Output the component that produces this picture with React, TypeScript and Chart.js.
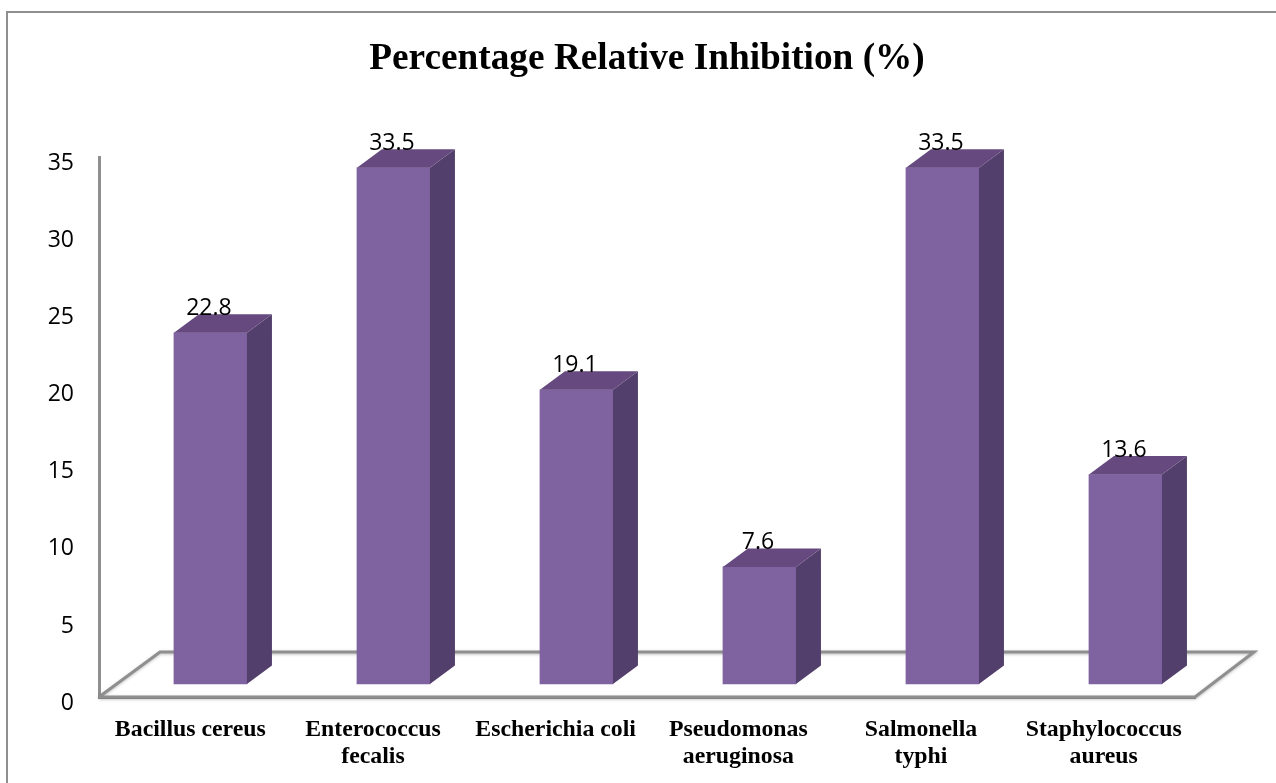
import React, { useEffect, useRef } from "react";
import { Chart, registerables } from "chart.js";

Chart.register(...registerables);

const categories = [
  ["Bacillus cereus"],
  ["Enterococcus", "fecalis"],
  ["Escherichia coli"],
  ["Pseudomonas", "aeruginosa"],
  ["Salmonella", "typhi"],
  ["Staphylococcus", "aureus"],
];
const inhibition = [22.8, 33.5, 19.1, 7.6, 33.5, 13.6];
const axisTicks = [0, 5, 10, 15, 20, 25, 30, 35];

const AXIS_GREY = "#8f8f8f";
const FRONT = "#7f63a1";
const TOP = "#65497f";
const SIDE = "#533f6b";
const DEPTH_X = 25;
const DEPTH_Y = 18.5;

// Frame around the chart and the slanted floor behind the columns.
const floorPlugin = {
  id: "floor",
  beforeDraw(chart: any) {
    const { ctx } = chart;
    ctx.save();
    ctx.strokeStyle = AXIS_GREY;
    ctx.lineWidth = 2;
    ctx.strokeRect(7, 12, 1400, 800);
    ctx.restore();
  },
  beforeDatasetsDraw(chart: any) {
    const { ctx, chartArea } = chart;
    const { left, right, bottom } = chartArea;
    ctx.save();
    ctx.strokeStyle = AXIS_GREY;
    ctx.lineWidth = 3;
    ctx.lineJoin = "miter";
    ctx.shadowColor = "rgba(0,0,0,0.25)";
    ctx.shadowBlur = 3;
    ctx.shadowOffsetY = 1;
    ctx.beginPath();
    ctx.moveTo(left, bottom);
    ctx.lineTo(left + 61, bottom - 45);
    ctx.lineTo(right + 59, bottom - 45);
    ctx.lineTo(right, bottom);
    ctx.lineTo(left, bottom);
    ctx.stroke();
    ctx.restore();
  },
};

// Extrudes each column with a top and a side face, then writes its value.
const extrudePlugin = {
  id: "extrude",
  afterDatasetsDraw(chart: any) {
    const { ctx } = chart;
    const bars = chart.getDatasetMeta(0).data;
    ctx.save();
    bars.forEach((bar: any) => {
      const l = bar.x - bar.width / 2;
      const r = bar.x + bar.width / 2;
      const t = bar.y;
      const b = bar.base;
      ctx.fillStyle = SIDE;
      ctx.beginPath();
      ctx.moveTo(r, t);
      ctx.lineTo(r + DEPTH_X, t - DEPTH_Y);
      ctx.lineTo(r + DEPTH_X, b - DEPTH_Y);
      ctx.lineTo(r, b);
      ctx.closePath();
      ctx.fill();
      ctx.fillStyle = TOP;
      ctx.beginPath();
      ctx.moveTo(l, t);
      ctx.lineTo(l + DEPTH_X, t - DEPTH_Y);
      ctx.lineTo(r + DEPTH_X, t - DEPTH_Y);
      ctx.lineTo(r, t);
      ctx.closePath();
      ctx.fill();
    });
    ctx.fillStyle = "#000000";
    ctx.font = "23px 'Open Sans'";
    ctx.textAlign = "center";
    ctx.textBaseline = "middle";
    bars.forEach((bar: any, i: number) => {
      ctx.fillText(String(inhibition[i]), bar.x - 1.5, bar.y - 24);
    });
    ctx.restore();
  },
};

export default function App() {
  const ref = useRef<HTMLCanvasElement>(null);

  useEffect(() => {
    document.body.style.margin = "0";
    const chart = new Chart(ref.current!, {
      type: "bar",
      data: {
        labels: categories,
        datasets: [
          {
            data: inhibition.map((v, i) => ({ x: i, y: v })),
            xAxisID: "columnX",
            yAxisID: "columnY",
            backgroundColor: FRONT,
            barThickness: 73,
          },
        ],
      },
      options: {
        responsive: false,
        animation: false,
        layout: { padding: { left: 39, right: 81, top: 0, bottom: 0 } },
        plugins: {
          legend: { display: false },
          tooltip: { enabled: false },
          title: {
            display: true,
            text: "Percentage Relative Inhibition (%)",
            fullSize: false,
            color: "#000000",
            font: { family: "Liberation Serif", size: 37.3, weight: "bold", lineHeight: 1.2 },
            padding: { top: 37, bottom: 76 },
          },
        },
        scales: {
          x: {
            type: "category",
            position: "bottom",
            grid: { display: false, drawTicks: false },
            border: { color: AXIS_GREY, width: 3 },
            afterFit(scale: any) {
              scale.height = 86;
            },
            ticks: {
              color: "#000000",
              maxRotation: 0,
              autoSkip: false,
              padding: 19,
              font: { family: "Liberation Serif", size: 23.8, weight: "bold", lineHeight: 1.15 },
            },
          },
          y: {
            type: "linear",
            position: "left",
            min: 0,
            max: 35,
            grid: { display: false, drawTicks: false },
            border: { color: AXIS_GREY, width: 3 },
            afterFit(scale: any) {
              scale.width = 60;
            },
            afterBuildTicks(scale: any) {
              scale.ticks = axisTicks.map((value) => ({ value }));
            },
            ticks: {
              color: "#000000",
              padding: 25,
              labelOffset: 6,
              font: { family: "Open Sans", size: 23 },
            },
          },
          columnX: { type: "linear", display: false, offset: false, position: "bottom", min: -0.609, max: 5.38 },
          columnY: { type: "linear", display: false, position: "left", min: -0.844, max: 34.156 },
        },
      },
      plugins: [floorPlugin, extrudePlugin],
    } as any);
    return () => chart.destroy();
  }, []);

  return <canvas ref={ref} width={1276} height={783} style={{ display: "block" }} />;
}
